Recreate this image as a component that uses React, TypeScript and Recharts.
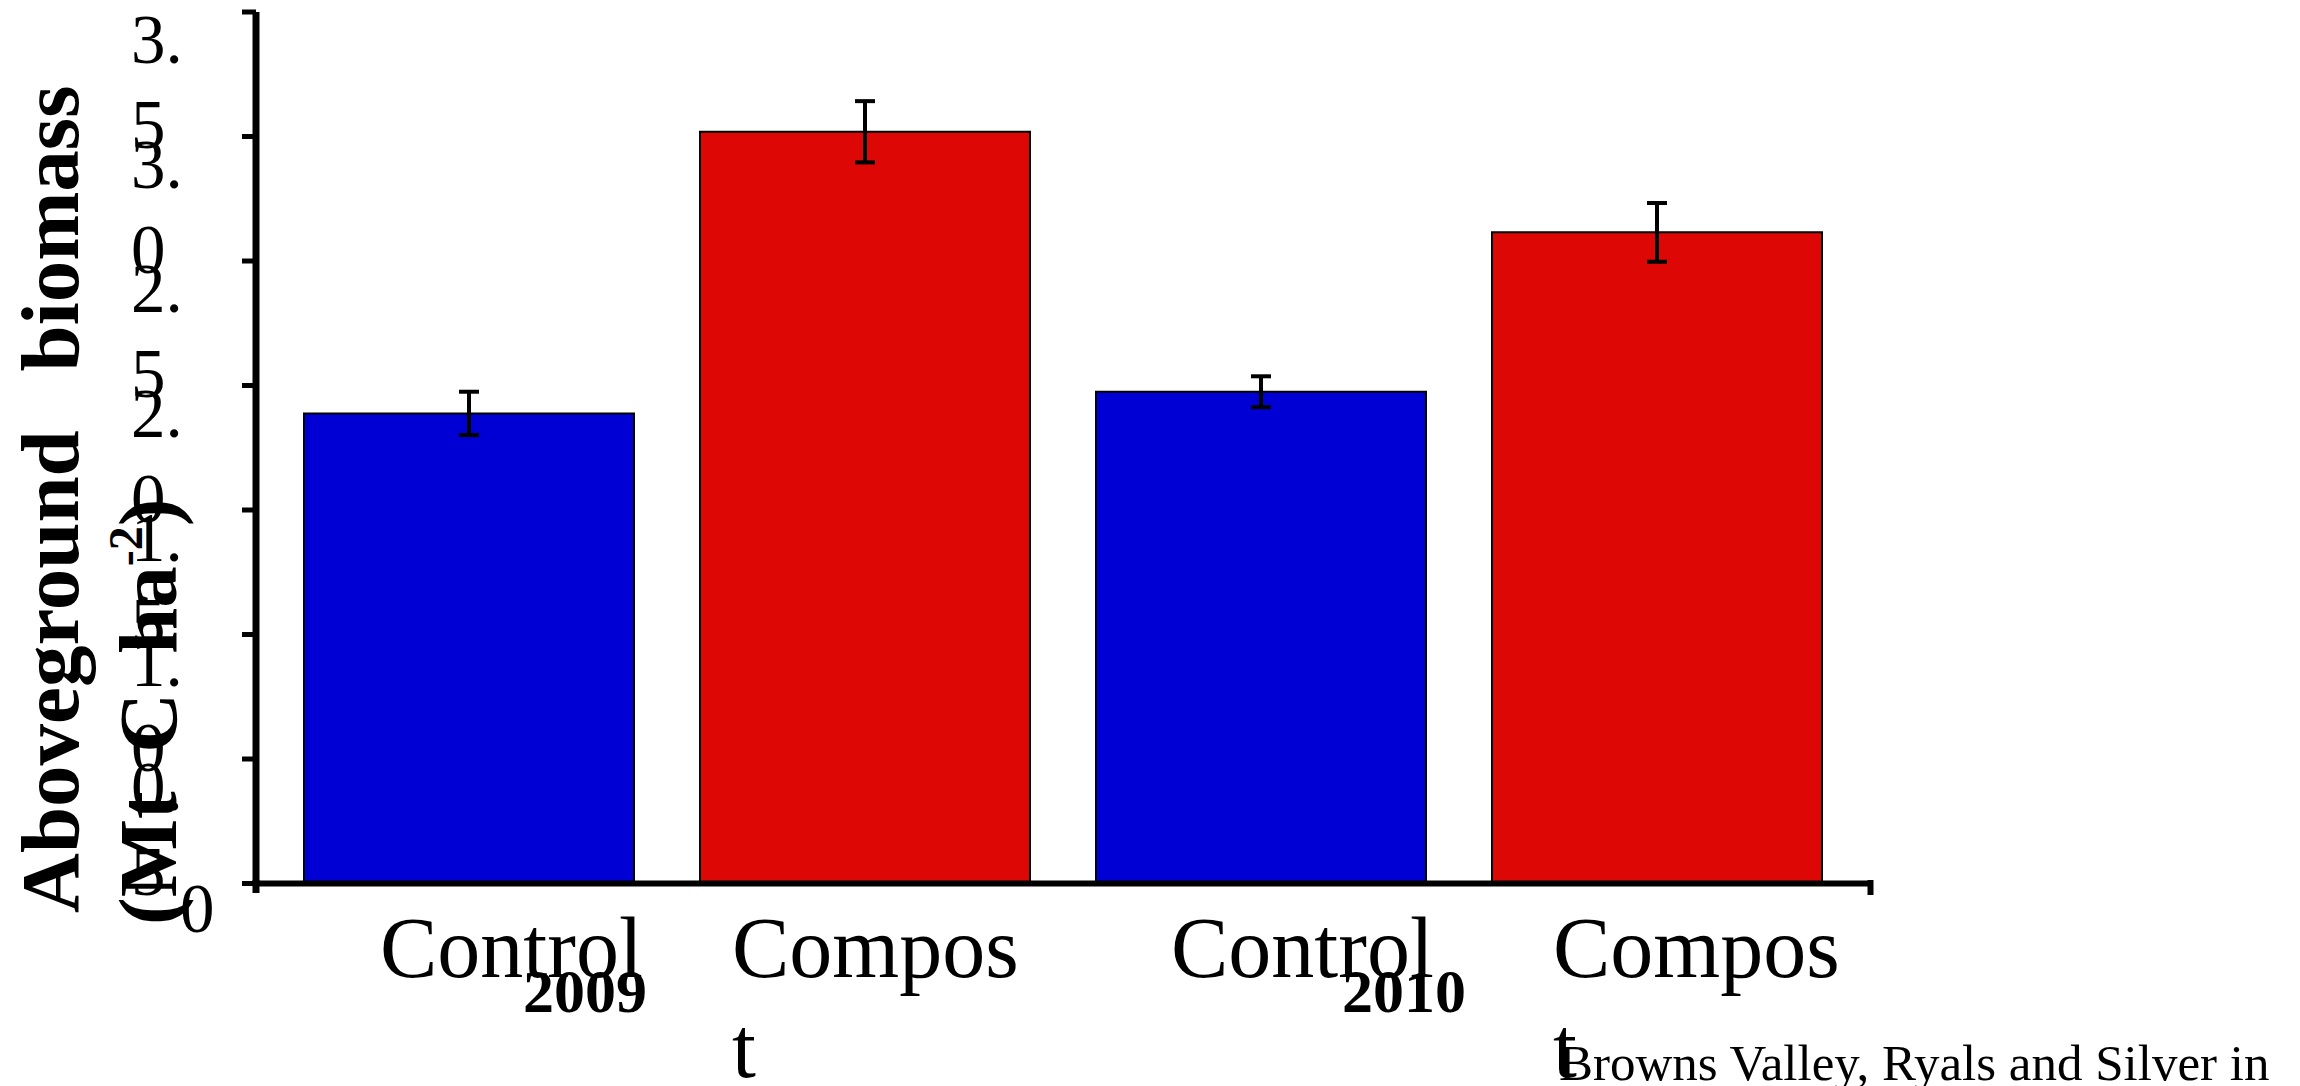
import React from "react";
import { BarChart, Bar, Cell, ErrorBar, XAxis, YAxis } from "recharts";

// values (Mt C ha-1)
const treatments = ["Control", "Compost", "Control", "Compost"];
const years = ["2009", "", "2010", ""];
const biomass = [1.888, 3.019, 1.975, 2.615];
const stdErr = [0.087, 0.123, 0.062, 0.118];
const yTicks = [0, 0.5, 1, 1.5, 2, 2.5, 3, 3.5];

const data = treatments.map((t, i) => ({
  name: `${t} ${i}`,
  treatment: t,
  year: years[i],
  biomass: biomass[i],
  err: stdErr[i],
}));

const COLORS: Record<string, string> = {
  Control: "#0000D4",
  Compost: "#DD0806",
};

// text box offsets from the category centre, as in the original slide
const labelDx = [-89, -133, -90, -104];
const yearDx = [116, 0, 143, 0];

const FONT = "'Liberation Serif', 'Times New Roman', serif";
const AXIS_X = 256;
const AXIS_Y = 883.5;

const YTick = (props: any) => {
  const { y, payload } = props;
  const v = payload.value as number;
  if (v === 0) {
    return (
      <text x={AXIS_X - 76} y={y + 48} fontFamily={FONT} fontSize={69} fill="#000">
        0
      </text>
    );
  }
  const s = v.toFixed(1);
  const [whole, frac] = s.split(".");
  return (
    <text x={AXIS_X - 125} y={y + 51} fontFamily={FONT} fontSize={69} fill="#000">
      <tspan x={AXIS_X - 125}>{whole + "."}</tspan>
      <tspan x={AXIS_X - 125} dy={85}>{frac}</tspan>
    </text>
  );
};

const XTick = (props: any) => {
  const { x, index } = props;
  const d = data[index];
  if (!d) return null;
  const isCompost = d.treatment === "Compost";
  const left = x + labelDx[index];
  return (
    <g>
      {isCompost ? (
        <text x={left} y={AXIS_Y + 93.5} fontFamily={FONT} fontSize={86} fill="#000">
          <tspan x={left}>Compos</tspan>
          <tspan x={left} dy={100}>t</tspan>
        </text>
      ) : (
        <text x={left} y={AXIS_Y + 93.5} fontFamily={FONT} fontSize={86} fill="#000">
          {d.treatment}
        </text>
      )}
      {d.year && (
        <text
          x={x + yearDx[index]}
          y={AXIS_Y + 128.5}
          textAnchor="middle"
          fontFamily={FONT}
          fontSize={62}
          fontWeight="bold"
          fill="#000"
        >
          {d.year}
        </text>
      )}
    </g>
  );
};

export default function App() {
  return (
    <div
      style={{
        position: "absolute",
        left: 0,
        top: 0,
        width: 2300,
        height: 1086,
        background: "#fff",
        overflow: "hidden",
      }}
    >
      <BarChart
        width={2300}
        height={1086}
        data={data}
        margin={{ top: 12, right: 428, bottom: 2.5, left: 0 }}
        barCategoryGap={33}
      >
        <XAxis
          dataKey="name"
          height={200}
          padding={{ left: 15, right: 17 }}
          axisLine={{ stroke: "#000", strokeWidth: 6 }}
          tickLine={false}
          tickSize={0}
          tickMargin={0}
          interval={0}
          tick={<XTick />}
        />
        <YAxis
          width={256}
          domain={[0, 3.5]}
          ticks={yTicks}
          interval={0}
          axisLine={{ stroke: "#000", strokeWidth: 7 }}
          tickLine={{ stroke: "#000", strokeWidth: 5 }}
          tickSize={14}
          tickMargin={0}
          tick={<YTick />}
        />
        <Bar dataKey="biomass" stroke="#000" strokeWidth={2} isAnimationActive={false}>
          {data.map((d, i) => (
            <Cell key={i} fill={COLORS[d.treatment]} />
          ))}
          <ErrorBar dataKey="err" width={10} stroke="#000" strokeWidth={4} direction="y" />
        </Bar>
      </BarChart>
      <svg
        width={2300}
        height={1086}
        style={{ position: "absolute", left: 0, top: 0, pointerEvents: "none" }}
      >
        {/* x-axis end tick and y-axis stub below the x axis */}
        <line x1={1870.5} y1={880} x2={1870.5} y2={895} stroke="#000" strokeWidth={6} />
        <line x1={AXIS_X} y1={880} x2={AXIS_X} y2={893} stroke="#000" strokeWidth={7} />
        <text
          transform="translate(78 913) rotate(-90)"
          fontFamily={FONT}
          fontSize={83}
          fontWeight="bold"
          wordSpacing={38}
          fill="#000"
        >
          Aboveground biomass
        </text>
        <text
          transform="translate(176 925) rotate(-90)"
          fontFamily={FONT}
          fontSize={83}
          fontWeight="bold"
          wordSpacing={18}
          fill="#000"
        >
          (Mt C ha
          <tspan fontSize={48} dy={-34}>-2</tspan>
          <tspan dy={34}>)</tspan>
        </text>
        <text x={1559} y={1080} fontFamily={FONT} fontSize={51} fill="#000">
          Browns Valley, Ryals and Silver in
        </text>
      </svg>
    </div>
  );
}
